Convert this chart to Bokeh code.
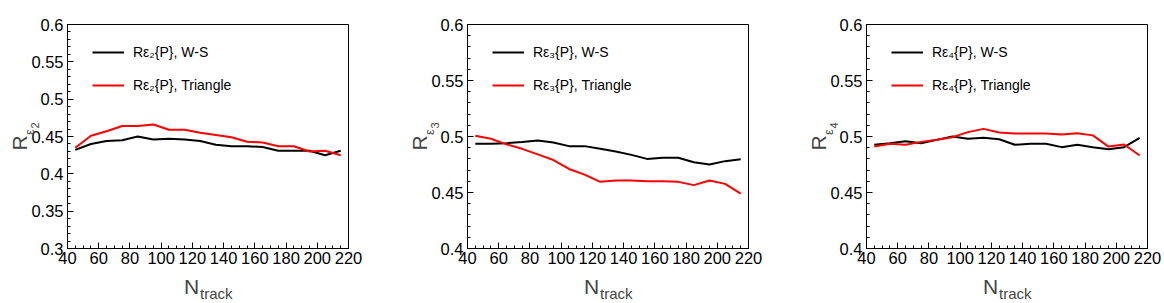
import math
from bokeh.plotting import figure
from bokeh.layouts import row, column
from bokeh.models import (Range1d, FixedTicker, CustomJSTickFormatter,
                          Label, Legend, LegendItem)
from bokeh.embed import file_html
from bokeh.resources import INLINE

# ---------------- data ----------------
n_track = [45, 55, 65, 75, 85, 95, 105, 115, 125, 135, 145, 155, 165, 175, 185, 195, 205, 215]

r_eps2_ws = [0.432, 0.440, 0.444, 0.445, 0.450, 0.446, 0.447, 0.446, 0.444, 0.439,
             0.437, 0.437, 0.436, 0.431, 0.431, 0.431, 0.425, 0.431]
r_eps2_tri = [0.435, 0.451, 0.457, 0.464, 0.464, 0.466, 0.459, 0.459, 0.455, 0.452,
              0.449, 0.443, 0.442, 0.437, 0.437, 0.430, 0.431, 0.425]

r_eps3_ws = [0.4935, 0.4935, 0.494, 0.495, 0.4964, 0.4946, 0.4914, 0.4914, 0.489, 0.4866,
             0.4836, 0.480, 0.481, 0.481, 0.477, 0.475, 0.478, 0.4796]
r_eps3_tri = [0.5006, 0.498, 0.493, 0.489, 0.484, 0.479, 0.471, 0.466, 0.4595, 0.4607,
              0.4607, 0.460, 0.460, 0.4595, 0.4566, 0.4607, 0.4577, 0.449]

r_eps4_ws = [0.4926, 0.494, 0.4958, 0.494, 0.497, 0.500, 0.498, 0.4988, 0.4976, 0.4926,
             0.4935, 0.4935, 0.4905, 0.4926, 0.4905, 0.4887, 0.4905, 0.4988]
r_eps4_tri = [0.491, 0.4935, 0.4926, 0.4952, 0.497, 0.4994, 0.5039, 0.5068, 0.5036, 0.5027,
              0.5027, 0.5027, 0.5018, 0.503, 0.501, 0.491, 0.4929, 0.483]

x_limits = (40, 220)
x_ticks = [40, 60, 80, 100, 120, 140, 160, 180, 200, 220]
y_limits = [(0.3, 0.6), (0.4, 0.6), (0.4, 0.6)]
y_ticks = [[0.3, 0.35, 0.4, 0.45, 0.5, 0.55, 0.6],
           [0.4, 0.45, 0.5, 0.55, 0.6],
           [0.4, 0.45, 0.5, 0.55, 0.6]]
orders = ["2", "3", "4"]
sub_digits = {"2": "\u2082", "3": "\u2083", "4": "\u2084"}
series_ws = [r_eps2_ws, r_eps3_ws, r_eps4_ws]
series_tri = [r_eps2_tri, r_eps3_tri, r_eps4_tri]

FONT = "Liberation Sans"

# ---------------- layout constants ----------------
FIG_H = 300
BORDER_TOP = 24
FRAME_W = 281
FRAME_H = 224
BORDER_BOTTOM = FIG_H - BORDER_TOP - FRAME_H
# (figure width, border_left, border_right)
layouts = [(398, 67, 50), (390, 69, 40), (376, 78, 17)]
TOTAL_W = sum(l[0] for l in layouts)

fmt = CustomJSTickFormatter(code="return String(parseFloat(tick.toFixed(3)));")


def minor_list(lo, hi, step):
    n = int(round((hi - lo) / step))
    return [round(lo + k * step, 4) for k in range(n + 1)]


def make_panel(i):
    ymin, ymax = y_limits[i]
    w, bl, br = layouts[i]
    p = figure(width=w, height=FIG_H, x_range=Range1d(*x_limits), y_range=Range1d(ymin, ymax),
               output_backend="svg", toolbar_location=None,
               min_border_left=bl, min_border_right=br,
               min_border_top=BORDER_TOP, min_border_bottom=BORDER_BOTTOM)
    p.background_fill_color = "white"
    p.border_fill_color = "white"
    p.outline_line_color = "black"
    p.outline_line_width = 1
    p.grid.visible = False

    p.xaxis.ticker = FixedTicker(ticks=x_ticks, minor_ticks=minor_list(x_limits[0], x_limits[1], 5))
    p.yaxis.ticker = FixedTicker(ticks=y_ticks[i], minor_ticks=minor_list(ymin, ymax, 0.01))
    p.yaxis.formatter = fmt
    for ax in (p.xaxis, p.yaxis):
        ax.major_tick_in = 6
        ax.major_tick_out = 0
        ax.minor_tick_in = 3
        ax.minor_tick_out = 0
        ax.axis_line_color = "black"
        ax.major_tick_line_color = "black"
        ax.minor_tick_line_color = "black"
        ax.major_label_text_font = FONT
        ax.major_label_text_font_size = "16.5px"
        ax.major_label_text_color = "black"
    p.yaxis.major_label_standoff = 4
    p.xaxis.major_label_standoff = 3

    r1 = p.line(n_track, series_ws[i], line_color="black", line_width=2)
    r2 = p.line(n_track, series_tri[i], line_color="#ff0000", line_width=2)

    sub = sub_digits[orders[i]]
    legend = Legend(items=[LegendItem(label="R\u03b5" + sub + "{P}, W-S", renderers=[r1]),
                           LegendItem(label="R\u03b5" + sub + "{P}, Triangle", renderers=[r2])],
                    location=(25, 153), padding=0, margin=0, spacing=13,
                    glyph_width=32, glyph_height=20, label_height=20, label_standoff=9,
                    border_line_color=None, background_fill_alpha=0,
                    label_text_font=FONT, label_text_font_size="14px",
                    label_text_color="black")
    p.add_layout(legend)
    return p


panels = [make_panel(i) for i in range(3)]

# ---------------- transparent text layer for the axis titles ----------------
ov = figure(width=TOTAL_W, height=FIG_H, x_range=Range1d(0, TOTAL_W), y_range=Range1d(FIG_H, 0),
            output_backend="svg", toolbar_location=None, x_axis_type=None, y_axis_type=None,
            min_border=0, margin=(-FIG_H, 0, 0, 0))
ov.grid.visible = False
ov.outline_line_color = None
ov.background_fill_alpha = 0
ov.border_fill_alpha = 0

x0 = 0
for i in range(3):
    w, bl, br = layouts[i]
    fl = x0 + bl
    fc = fl + FRAME_W / 2
    fb = BORDER_TOP + FRAME_H
    fm = BORDER_TOP + FRAME_H / 2
    # N_track
    ov.add_layout(Label(x=fc - 24, y=fb + 38, text="N", text_font=FONT,
                        text_font_size="21px", text_align="left", text_baseline="alphabetic"))
    ov.add_layout(Label(x=fc - 8, y=fb + 44.5, text="track", text_font=FONT,
                        text_font_size="15px", text_align="left", text_baseline="alphabetic"))
    # R_{eps_n}
    ov.add_layout(Label(x=fl - 48, y=fm + 14, text="R", angle=math.pi / 2, text_font=FONT,
                        text_font_size="21px", text_align="left", text_baseline="alphabetic"))
    ov.add_layout(Label(x=fl - 38, y=fm - 1.5, text="\u03b5", angle=math.pi / 2, text_font=FONT,
                        text_font_size="13px", text_align="left", text_baseline="alphabetic"))
    ov.add_layout(Label(x=fl - 33, y=fm - 8, text=orders[i], angle=math.pi / 2,
                        text_font=FONT, text_font_size="11px", text_align="left",
                        text_baseline="alphabetic"))
    x0 += w

layout = column(row(*panels), ov)

open("out.html", "w").write(file_html(layout, INLINE))
